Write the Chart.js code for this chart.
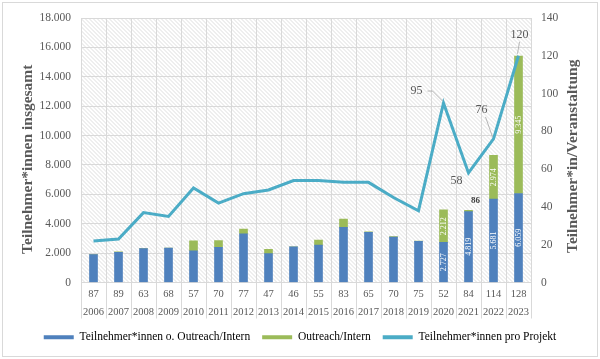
<!DOCTYPE html>
<html>
<head>
<meta charset="utf-8">
<script src="https://cdn.jsdelivr.net/npm/chart.js@4.4.1/dist/chart.umd.min.js"></script>
<style>
  html, body { margin: 0; padding: 0; background: #fff; }
  canvas { display: block; }
</style>
</head>
<body>
<canvas id="teilnehmerChart" width="600" height="359"></canvas>
<script>
// --- Daten ---
const jahre = ['2006', '2007', '2008', '2009', '2010', '2011', '2012', '2013', '2014',
               '2015', '2016', '2017', '2018', '2019', '2020', '2021', '2022', '2023'];
const veranstaltungen = [87, 89, 63, 68, 57, 70, 77, 47, 46, 55, 83, 65, 70, 75, 52, 84, 114, 128];
const teilnehmerBasis = [1900, 2050, 2300, 2340, 2160, 2400, 3320, 1960, 2430,
                         2540, 3750, 3410, 3090, 2800, 2727, 4819, 5681, 6059];
const teilnehmerOutreach = [0, 30, 0, 0, 680, 460, 310, 290, 0,
                            340, 570, 30, 40, 20, 2212, 86, 2974, 9345];
const proProjekt = [22, 23, 37, 35, 50, 42, 47, 49, 54, 54, 53, 53, 45, 38, 95, 58, 76, 120];
const jahreMitWerten = ['2020', '2021', '2022', '2023'];

// --- Beschriftung der Linie (Versatz zum Punkt) ---
const linienLabelPos = {
    '2020': { dx: -27, dy: -12, leader: true },
    '2021': { dx: -12, dy: 8, leader: false },
    '2022': { dx: -12, dy: -29, leader: true },
    '2023': { dx: 1, dy: -21, leader: true }
};

const SCHRIFT = "'Liberation Serif', 'Times New Roman', serif";
const GRAU = '#595959';
const GITTER = '#d9d9d9';

function formatDE(v) {
    return String(v).replace(/\B(?=(\d{3})+(?!\d))/g, '.');
}

// --- Plugins ---
const hintergrund = {
    id: 'hintergrund',
    beforeDraw(chart) {
        const { ctx, chartArea: a } = chart;
        ctx.save();
        ctx.fillStyle = '#fff';
        ctx.fillRect(0, 0, chart.width, chart.height);
        ctx.strokeStyle = GITTER;
        ctx.lineWidth = 1;
        ctx.strokeRect(2.5, 2.5, chart.width - 5, chart.height - 5);

        // Schraffur im Plotbereich
        ctx.beginPath();
        ctx.rect(a.left, a.top, a.width, a.height);
        ctx.clip();
        ctx.strokeStyle = '#dedede';
        ctx.lineWidth = 1;
        ctx.beginPath();
        for (let k = -a.height; k < a.width; k += 4) {
            ctx.moveTo(a.left + k, a.top);
            ctx.lineTo(a.left + k + a.height, a.bottom);
        }
        ctx.stroke();
        ctx.restore();
    },
    afterDraw(chart) {
        const { ctx, chartArea: a } = chart;
        const xs = chart.scales.x;
        const halb = (xs.getPixelForValue(1) - xs.getPixelForValue(0)) / 2;

        // Trennlinien zwischen den Kategorien im Beschriftungsbereich
        ctx.save();
        ctx.strokeStyle = GITTER;
        ctx.lineWidth = 1;
        ctx.beginPath();
        for (let i = 0; i <= jahre.length; i++) {
            const x = Math.round(xs.getPixelForValue(i) - halb) + 0.5;
            ctx.moveTo(x, a.bottom);
            ctx.lineTo(x, a.bottom + 36);
        }
        ctx.stroke();

        // Achsentitel
        ctx.fillStyle = GRAU;
        ctx.font = 'bold 15.5px ' + SCHRIFT;
        ctx.textAlign = 'center';
        ctx.textBaseline = 'middle';
        const mitte = (a.top + a.bottom) / 2 + 9;
        ctx.translate(28, mitte);
        ctx.rotate(-Math.PI / 2);
        ctx.fillText('Teilnehmer*innen insgesamt', 0, 0);
        ctx.rotate(Math.PI / 2);
        ctx.translate(-28, -mitte);
        ctx.translate(573, mitte - 3);
        ctx.rotate(-Math.PI / 2);
        ctx.fillText('Teilnehmer*in/Veranstaltung', 0, 0);
        ctx.restore();
    }
};

const werteLabels = {
    id: 'werteLabels',
    afterDatasetsDraw(chart) {
        const { ctx } = chart;
        ctx.save();
        ctx.textAlign = 'center';
        ctx.textBaseline = 'middle';

        // Werte in den Balken
        [0, 1].forEach(function (dsIndex) {
            const meta = chart.getDatasetMeta(dsIndex);
            const werte = chart.data.datasets[dsIndex].data;
            jahreMitWerten.forEach(function (jahr) {
                const i = jahre.indexOf(jahr);
                const el = meta.data[i];
                const p = el.getProps(['x', 'y', 'base'], true);
                const hoehe = Math.abs(p.base - p.y);
                if (hoehe < 14) {
                    ctx.fillStyle = '#404040';
                    ctx.font = 'bold 9px ' + SCHRIFT;
                    ctx.fillText(formatDE(werte[i]), p.x + 7, p.y - 10);
                } else {
                    ctx.save();
                    ctx.fillStyle = '#fff';
                    ctx.font = '8px ' + SCHRIFT;
                    ctx.translate(p.x, (p.y + p.base) / 2);
                    ctx.rotate(-Math.PI / 2);
                    ctx.fillText(formatDE(werte[i]), 0, 0.5);
                    ctx.restore();
                }
            });
        });

        // Werte an der Linie
        const lineMeta = chart.getDatasetMeta(2);
        ctx.font = '12px ' + SCHRIFT;
        Object.keys(linienLabelPos).forEach(function (jahr) {
            const i = jahre.indexOf(jahr);
            const pt = lineMeta.data[i];
            const pos = linienLabelPos[jahr];
            const lx = pt.x + pos.dx, ly = pt.y + pos.dy;
            if (pos.leader) {
                ctx.strokeStyle = '#a6a6a6';
                ctx.lineWidth = 0.8;
                ctx.beginPath();
                if (pos.dy < -15) {
                    ctx.moveTo(lx + (pos.dx < -5 ? 4 : 0), ly + 7);
                } else {
                    ctx.moveTo(lx + 11, ly);
                    ctx.lineTo(lx + 16, ly);
                }
                ctx.lineTo(pt.x - 1, pt.y - 2);
                ctx.stroke();
            }
            ctx.fillStyle = GRAU;
            ctx.fillText(String(proProjekt[i]), lx, ly);
        });
        ctx.restore();
    }
};

// --- Chart ---
const ctx = document.getElementById('teilnehmerChart').getContext('2d');
new Chart(ctx, {
    type: 'bar',
    data: {
        labels: jahre.map(function (j, i) { return [String(veranstaltungen[i]), j]; }),
        datasets: [{
            label: 'Teilnehmer*innen o. Outreach/Intern',
            data: teilnehmerBasis,
            backgroundColor: '#4F81BD',
            barThickness: 8,
            stack: 'gesamt',
            yAxisID: 'y',
            order: 1
        }, {
            label: 'Outreach/Intern',
            data: teilnehmerOutreach,
            backgroundColor: '#9BBB59',
            barThickness: 8,
            stack: 'gesamt',
            yAxisID: 'y',
            order: 1
        }, {
            type: 'line',
            label: 'Teilnehmer*innen pro Projekt',
            data: proProjekt,
            borderColor: '#4BACC6',
            backgroundColor: '#4BACC6',
            borderWidth: 3,
            pointRadius: 0,
            tension: 0,
            yAxisID: 'y1',
            order: 0
        }]
    },
    options: {
        responsive: false,
        animation: false,
        events: [],
        layout: { padding: { left: 0, right: 0, top: 18, bottom: 6 } },
        plugins: {
            tooltip: { enabled: false },
            legend: {
                position: 'bottom',
                labels: {
                    boxWidth: 30,
                    boxHeight: 4,
                    padding: 12,
                    color: GRAU,
                    font: { family: SCHRIFT, size: 11.5 },
                    sort: function (a, b) { return a.datasetIndex - b.datasetIndex; },
                    generateLabels: function (chart) {
                        return chart.data.datasets.map(function (ds, i) {
                            const farbe = ds.type === 'line' ? ds.borderColor : ds.backgroundColor;
                            return {
                                text: ds.label,
                                fillStyle: farbe,
                                strokeStyle: farbe,
                                lineWidth: 0,
                                hidden: false,
                                datasetIndex: i
                            };
                        });
                    }
                }
            }
        },
        scales: {
            x: {
                stacked: true,
                afterFit: function (s) { s.height = 37; },
                grid: { color: GITTER, offset: true, drawTicks: false },
                border: { color: GITTER },
                ticks: {
                    color: GRAU,
                    padding: 3,
                    maxRotation: 0,
                    autoSkip: false,
                    font: { family: SCHRIFT, size: 10.5, lineHeight: 1.7 }
                }
            },
            y: {
                stacked: true,
                position: 'left',
                min: 0,
                max: 18000,
                afterFit: function (s) { s.width = 81; },
                grid: { color: GITTER, drawTicks: false },
                border: { display: false },
                ticks: {
                    stepSize: 2000,
                    padding: 10,
                    color: GRAU,
                    font: { family: SCHRIFT, size: 11.5 },
                    callback: function (v) { return formatDE(v); }
                }
            },
            y1: {
                position: 'right',
                min: 0,
                max: 140,
                afterFit: function (s) { s.width = 69; },
                grid: { display: false, drawTicks: false },
                border: { display: false },
                ticks: {
                    stepSize: 20,
                    padding: 10,
                    color: GRAU,
                    font: { family: SCHRIFT, size: 11.5 }
                }
            }
        }
    },
    plugins: [hintergrund, werteLabels]
});
</script>
</body>
</html>
